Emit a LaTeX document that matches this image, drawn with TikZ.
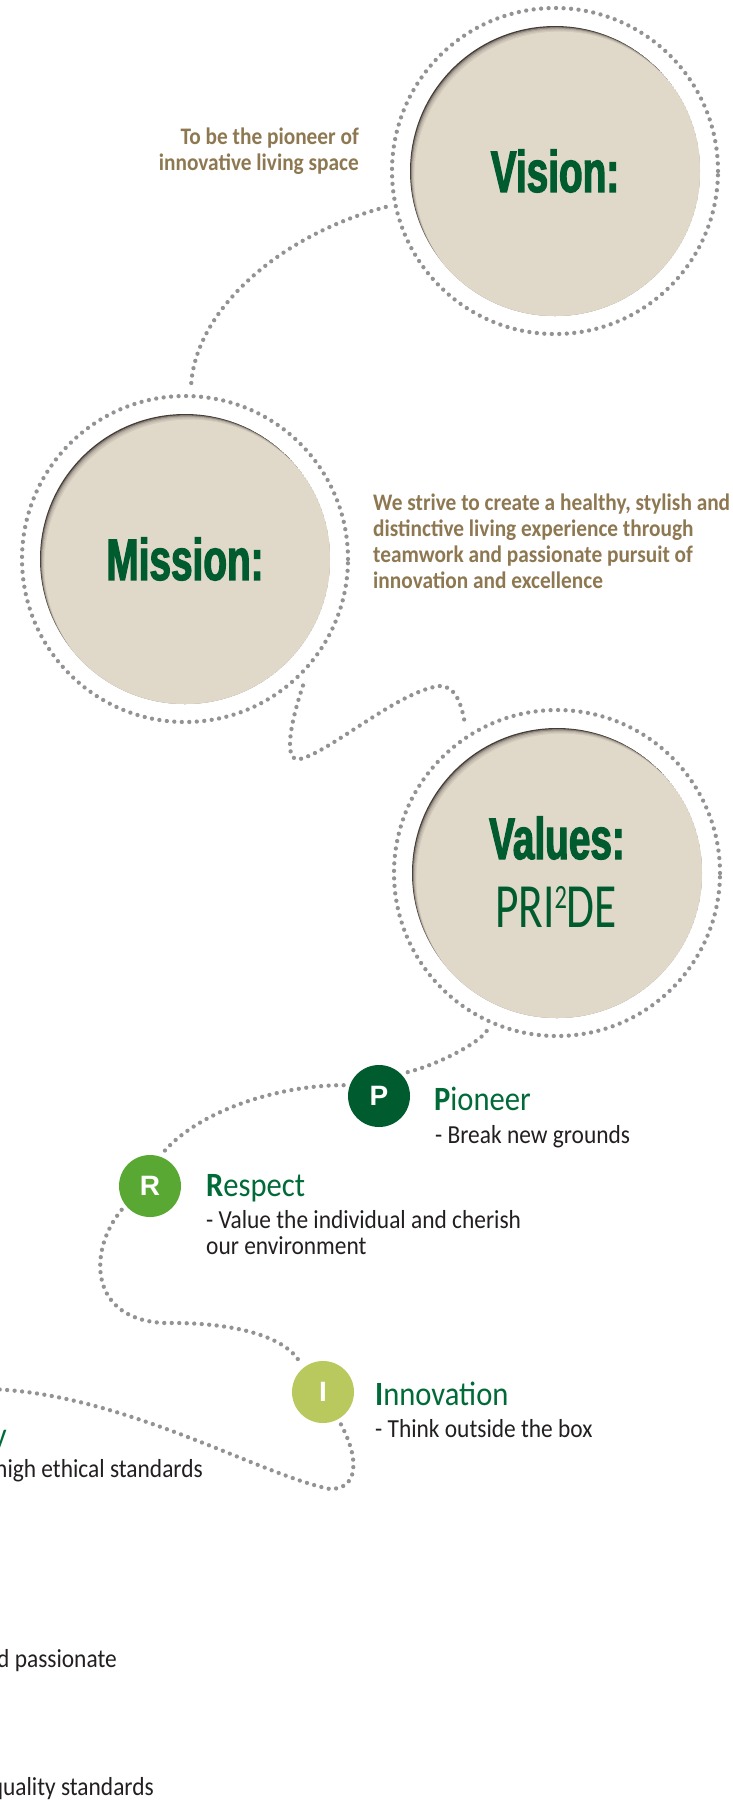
\documentclass[tikz,border=0pt]{standalone}
\usepackage{fontspec}
\setmainfont{Carlito}[FakeStretch=0.9]
\newfontfamily\headfont{Liberation Sans}[FakeStretch=0.66, FakeBold=2]
\newfontfamily\badgefont{Liberation Sans}
\newfontfamily\pridefont{Carlito}[FakeStretch=0.72]
\usepackage{xcolor}

\definecolor{beige}{HTML}{E0D8C9}
\definecolor{rimshade}{HTML}{443D37}
\definecolor{dotgray}{HTML}{939393}
\definecolor{leaf}{HTML}{005C2E}
\definecolor{titlegreen}{HTML}{006A38}
\definecolor{pgreen}{HTML}{005C2E}
\definecolor{rgreen}{HTML}{5AA834}
\definecolor{igreen}{HTML}{B9C95E}
\definecolor{tan}{HTML}{8E7852}
\definecolor{ink}{HTML}{231F20}

\tikzset{
  dotline/.style={draw=dotgray, line width=4.3pt, line cap=round, dash pattern=on 0pt off 7.5pt},
  dotring/.style={circle, dotline, minimum size=326pt, inner sep=0pt, outer sep=10pt},
  badge/.style={circle, minimum size=62pt, inner sep=0pt, outer sep=6pt, text=white,
    font=\badgefont\bfseries\fontsize{28}{28}\selectfont},
  heading/.style={text=leaf, inner sep=0pt, font=\headfont\bfseries\fontsize{58.7}{60}\selectfont},
  pride/.style={text=leaf, inner sep=0pt, font=\pridefont\fontsize{63}{63}\selectfont},
  valuetitle/.style={text=titlegreen, inner sep=0pt, font=\fontsize{34}{34}\selectfont},
  valuenote/.style={text=ink, inner sep=0pt, align=left, font=\fontsize{26}{26}\selectfont},
  statement/.style={text=tan, inner sep=0pt, font=\bfseries\fontsize{23.7}{25.8}\selectfont},
}

% beige plate with its dotted ring and a soft shade on the upper left rim
\newcommand\valuedisc[2]{%
  \coordinate (#1) at (#2);
  \node[dotring] (#1ring) at (#1) {};
  \begin{scope}
    \clip (#1) circle[radius=145pt];
    \fill[rimshade] (#1) circle[radius=145pt];
    \fill[beige] ([shift={(4.4,5.6)}]#1) circle[radius=145pt];
    \foreach \k in {0.2,0.4,0.6,0.8}
      \fill[beige, opacity=0.45] ([shift={(4.4*\k,5.6*\k)}]#1) circle[radius=145pt];
  \end{scope}
}

\begin{document}
\begin{tikzpicture}[x=1pt,y=-1pt]
\useasboundingbox (0,0) rectangle (732,1805);
\fill[white] (0,0) rectangle (732,1805);
\clip (0,0) rectangle (732,1805);

\valuedisc{vision}{555,171}
\valuedisc{mission}{185,559}
\valuedisc{values}{557,873}

\node[badge, fill=pgreen] (pnode) at (379,1096) {P};
\node[badge, fill=rgreen] (rnode) at (150,1186) {R};
\node[badge, fill=igreen] (inode) at (323,1392) {I};
\coordinate (offleft) at (-12,1389);

% the winding trail
\draw[dotline] (visionring.192) .. controls (280,235) and (195,310) .. (missionring.88);
\draw[dotline] (missionring.313) .. controls (293,715) and (281,763) .. (300,759)
  .. controls (330,752) and (400,690) .. (440,686)
  .. controls (456,686) and (462,705) .. (valuesring.122);
\draw[dotline] (valuesring.246) .. controls (480,1042) and (440,1064) .. (pnode.40);
\draw[dotline] (pnode.163) .. controls (280,1085) and (200,1110) .. (rnode.68);
\draw[dotline] (rnode.220) .. controls (88,1250) and (88,1320) .. (165,1323)
  .. controls (230,1322) and (285,1335) .. (inode.128);
\draw[dotline] (inode.299) .. controls (360,1460) and (358,1489) .. (330,1489)
  .. controls (260,1475) and (120,1392) .. (offleft);

\node[heading] (visionhead) at (vision) {Vision:};
\node[heading] (missionhead) at (mission) {Mission:};
\node[heading, anchor=base] (valueshead) at (557,859) {Values:};
\node[pride, anchor=base] (pridehead) at (556,927) {PRI\raisebox{19pt}{\fontsize{34}{34}\selectfont 2}DE};

% multi-line texts sit on their last line
\node[statement, align=right, anchor=base east] (visiontext) at (359,170)
  {To be the pioneer of\\innovative living space};
\node[statement, align=left, anchor=base west] (missiontext) at (373,588)
  {We strive to create a healthy, stylish and\\distinctive living experience through\\teamwork and passionate pursuit of\\innovation and excellence};

\node[valuetitle, anchor=base west] (ptitle) at (434,1110) {\textbf{P}ioneer};
\node[valuenote, anchor=base west] (pnote) at (435,1143) {- Break new grounds};
\node[valuetitle, anchor=base west] (rtitle) at (206,1196) {\textbf{R}espect};
\node[valuenote, anchor=base west] (rnote) at (206,1254) {- Value the individual and cherish\\our environment};
\node[valuetitle, anchor=base west] (ititle) at (375,1405) {\textbf{I}nnovation};
\node[valuenote, anchor=base west] (inote) at (375,1437) {- Think outside the box};

% lines running in from the left
\node[valuetitle, anchor=base east] (gtitle) at (7,1446) {y};
\node[valuenote, anchor=base east] (gnote) at (203,1477) {high ethical standards};
\node[valuenote, anchor=base east] (dnote) at (117,1667) {d passionate};
\node[valuenote, anchor=base east] (enote) at (154,1795) {quality standards};
\end{tikzpicture}
\end{document}
